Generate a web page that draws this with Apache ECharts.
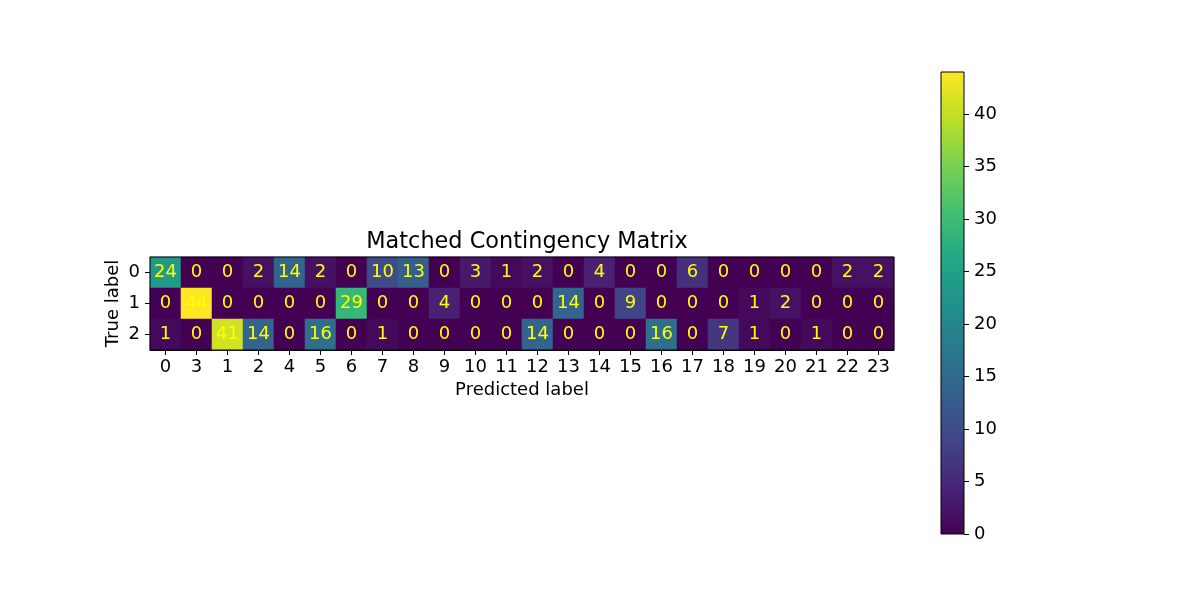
<!DOCTYPE html>
<html>
<head>
<meta charset="utf-8">
<script src="https://cdn.jsdelivr.net/npm/echarts@6/dist/echarts.min.js"></script>
<style>html,body{margin:0;padding:0;background:#fff;}#chart{width:1200px;height:600px;}</style>
</head>
<body>
<div id="chart"></div>
<script>
const title = 'Matched Contingency Matrix';
const xLabels = ['0','3','1','2','4','5','6','7','8','9','10','11','12','13','14','15','16','17','18','19','20','21','22','23'];
const yLabels = ['0','1','2'];
const row0 = [24,0,0,2,14,2,0,10,13,0,3,1,2,0,4,0,0,6,0,0,0,0,2,2];
const row1 = [0,44,0,0,0,0,29,0,0,4,0,0,0,14,0,9,0,0,0,1,2,0,0,0];
const row2 = [1,0,41,14,0,16,0,1,0,0,0,0,14,0,0,0,16,0,7,1,0,1,0,0];
const colorbarTicks = [0,5,10,15,20,25,30,35,40];
const vMin = 0, vMax = 44;
const viridis = ['#440154','#482475','#414487','#355f8d','#2a788e','#21918c','#22a884','#44bf70','#7ad151','#bddf26','#fde725'];

const rows = [row0, row1, row2];
const heatData = [];
rows.forEach((r, yi) => r.forEach((v, xi) => heatData.push([xi, yi, v])));

const FONT = 'DejaVu Sans';
const FS = 18;

const chart = echarts.init(document.getElementById('chart'), null, {renderer: 'canvas'});
chart.setOption({
  animation: false,
  backgroundColor: '#ffffff',
  textStyle: {fontFamily: FONT},
  title: {
    text: title, left: 522, top: 226, textAlign: 'center',
    textStyle: {fontFamily: FONT, fontSize: 22.4, fontWeight: 'normal', color: '#000'}
  },
  grid: [
    {left: 150, top: 257, width: 744, height: 93, show: true, borderColor: '#000', borderWidth: 1, backgroundColor: 'transparent', z: 10},
    {left: 941, top: 72, width: 23, height: 462, show: true, borderColor: '#000', borderWidth: 1, backgroundColor: 'transparent', z: 10}
  ],
  xAxis: [
    {
      type: 'category', data: xLabels, gridIndex: 0, position: 'bottom',
      name: 'Predicted label', nameLocation: 'middle', nameGap: 31,
      nameTextStyle: {fontFamily: FONT, fontSize: FS, color: '#000'},
      axisLine: {show: true, lineStyle: {color: '#000', width: 1}},
      axisTick: {show: true, alignWithLabel: true, length: 5, lineStyle: {color: '#000', width: 1}},
      axisLabel: {fontFamily: FONT, fontSize: FS, color: '#000', margin: 8, interval: 0},
      splitLine: {show: false}, splitArea: {show: false}
    },
    {
      type: 'category', data: ['cb'], gridIndex: 1, show: false
    }
  ],
  yAxis: [
    {
      type: 'category', data: yLabels, gridIndex: 0, inverse: true,
      name: 'True label', nameLocation: 'middle', nameGap: 28, nameRotate: 90, nameMoveOverlap: false,
      nameTextStyle: {fontFamily: FONT, fontSize: FS, color: '#000'},
      axisLine: {show: true, lineStyle: {color: '#000', width: 1}},
      axisTick: {show: true, alignWithLabel: true, length: 5, lineStyle: {color: '#000', width: 1}},
      axisLabel: {fontFamily: FONT, fontSize: FS, color: '#000', margin: 10},
      splitLine: {show: false}, splitArea: {show: false}
    },
    {
      type: 'value', gridIndex: 1, min: vMin, max: vMax, position: 'right',
      axisLine: {show: false},
      axisTick: {show: true, length: 5, lineStyle: {color: '#000', width: 1}, customValues: colorbarTicks},
      axisLabel: {fontFamily: FONT, fontSize: FS, color: '#000', margin: 10, customValues: colorbarTicks},
      splitLine: {show: false}
    }
  ],
  visualMap: {
    show: false, type: 'continuous', min: vMin, max: vMax, seriesIndex: 0, dimension: 2,
    inRange: {color: viridis}
  },
  series: [
    {
      type: 'heatmap', xAxisIndex: 0, yAxisIndex: 0, data: heatData,
      label: {show: true, color: '#ffff00', fontFamily: FONT, fontSize: FS},
      itemStyle: {borderWidth: 0},
      emphasis: {disabled: true}
    },
    {
      type: 'bar', xAxisIndex: 1, yAxisIndex: 1, data: [vMax], barWidth: '100%',
      itemStyle: {
        color: {
          type: 'linear', x: 0, y: 1, x2: 0, y2: 0,
          colorStops: viridis.map((c, i) => ({offset: i / (viridis.length - 1), color: c}))
        }
      },
      silent: true
    }
  ]
});
</script>
</body>
</html>
